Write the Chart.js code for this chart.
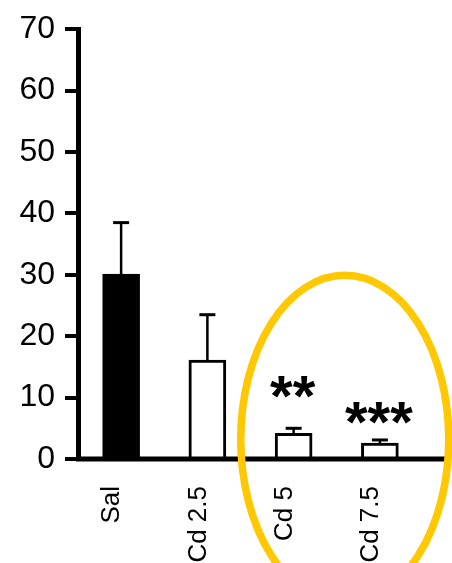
<!DOCTYPE html>
<html>
<head>
<meta charset="utf-8">
<script src="https://cdn.jsdelivr.net/npm/chart.js@4"></script>
<style>
  html, body { margin: 0; padding: 0; background: #fff; }
  #c { display: block; }
</style>
</head>
<body>
<canvas id="c" width="452" height="563"></canvas>
<script>
// Group means with upper SEM bars
const groups = ['Sal', 'Cd 2.5', 'Cd 5', 'Cd 7.5'];
const means = [30.1, 16.1, 4.2, 2.6];
const sem = [8.4, 7.4, 0.8, 0.5];
const stars = ['', '', '**', '***'];
const yTicks = [0, 10, 20, 30, 40, 50, 60, 70];

const fills = ['#000000', '#ffffff', '#ffffff', '#ffffff'];

// Upper error bars, significance stars, baseline and highlight ring
const extras = {
  id: 'extras',
  afterDatasetsDraw(chart, args, opts) {
    const ctx = chart.ctx;
    const ys = chart.scales.y;
    const area = chart.chartArea;
    const meta = chart.getDatasetMeta(0);
    ctx.save();
    ctx.strokeStyle = '#000';
    ctx.fillStyle = '#000';
    meta.data.forEach((bar, i) => {
      const top = ys.getPixelForValue(means[i] + sem[i]);
      ctx.lineWidth = 2.5;
      ctx.beginPath();
      ctx.moveTo(bar.x, bar.y);
      ctx.lineTo(bar.x, top);
      ctx.stroke();
      ctx.lineWidth = 3;
      ctx.beginPath();
      ctx.moveTo(bar.x - 8, top);
      ctx.lineTo(bar.x + 8, top);
      ctx.stroke();
      if (stars[i]) {
        ctx.font = 'bold 58px "Liberation Sans", Arial, sans-serif';
        ctx.textAlign = 'center';
        ctx.textBaseline = 'alphabetic';
        const m = ctx.measureText(stars[i]);
        const cy = ys.getPixelForValue(opts.starLevels[i]);
        const yb = cy + (m.actualBoundingBoxAscent - m.actualBoundingBoxDescent) / 2;
        ctx.fillText(stars[i], bar.x - 1, yb);
      }
    });
    // x baseline running past the last group
    const y0 = ys.getPixelForValue(0);
    ctx.lineWidth = 5;
    ctx.beginPath();
    ctx.moveTo(area.left - 2, y0);
    ctx.lineTo(area.right + 24, y0);
    ctx.stroke();
    ctx.restore();
  },
  afterDraw(chart) {
    const ctx = chart.ctx;
    const xs = chart.scales.x;
    const ys = chart.scales.y;
    const cx = (xs.getPixelForValue(2) + xs.getPixelForValue(3)) / 2 + 8;
    const cy = ys.getPixelForValue(3.2);
    ctx.save();
    ctx.strokeStyle = '#FFC800';
    ctx.lineWidth = 7.5;
    ctx.beginPath();
    ctx.ellipse(cx, cy, 104, 164, 0, 0, Math.PI * 2);
    ctx.stroke();
    ctx.restore();
  }
};

new Chart(document.getElementById('c'), {
  type: 'bar',
  data: {
    labels: groups,
    datasets: [{
      data: means,
      backgroundColor: fills,
      borderColor: '#000',
      borderWidth: 3,
      borderSkipped: 'bottom',
      barThickness: 37
    }]
  },
  options: {
    responsive: false,
    animation: false,
    layout: { padding: { top: 25, right: 29, left: 0, bottom: 0 } },
    plugins: {
      legend: { display: false },
      tooltip: { enabled: false },
      extras: { starLevels: [0, 0, 11.8, 7.5] }
    },
    scales: {
      x: {
        grid: { display: false },
        border: { display: false },
        ticks: {
          color: '#000',
          font: { family: '"Liberation Sans", Arial, sans-serif', size: 26 },
          minRotation: 90,
          maxRotation: 90,
          padding: 19,
          labelOffset: -9,
          autoSkip: false
        },
        afterFit(scale) { scale.height = 104; }
      },
      y: {
        min: 0,
        max: 70,
        afterBuildTicks(scale) { scale.ticks = yTicks.map(v => ({ value: v })); },
        grid: {
          drawOnChartArea: false,
          drawTicks: true,
          tickLength: 13,
          lineWidth: 4,
          color: '#000'
        },
        border: { display: true, width: 5, color: '#000' },
        ticks: {
          color: '#000',
          font: { family: '"Liberation Sans", Arial, sans-serif', size: 32 },
          padding: 10
        },
        afterFit(scale) { scale.width = 78; }
      }
    }
  },
  plugins: [extras]
});
</script>
</body>
</html>
